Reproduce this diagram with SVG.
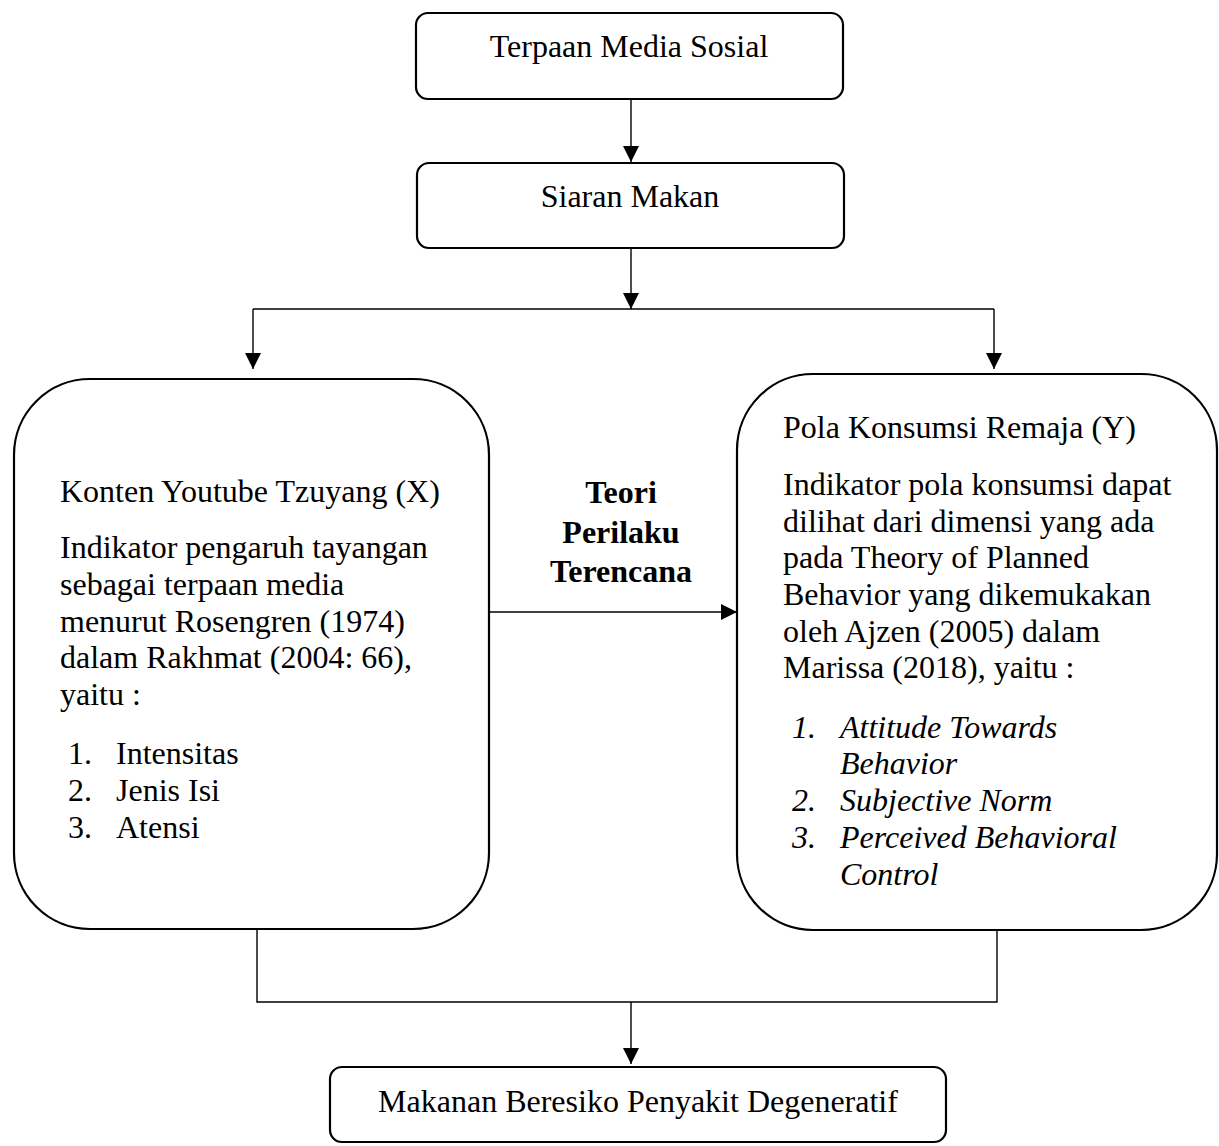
<svg xmlns="http://www.w3.org/2000/svg" width="1219" height="1146" viewBox="0 0 1219 1146">
<style>
.box{fill:#fff;stroke:#000;stroke-width:2.2}
.con{fill:none;stroke:#000;stroke-width:1.4}
text{font-family:"Liberation Serif","Times New Roman",serif;font-size:32px;fill:#000}
.c{text-anchor:middle}
.b{font-weight:bold}
.i{font-style:italic}
</style>
<defs>
<marker id="arr" markerUnits="userSpaceOnUse" markerWidth="16" markerHeight="16" refX="16" refY="8" orient="auto">
<path d="M0,0 L16,8 L0,16 z" fill="#000"/>
</marker>
</defs>
<rect width="1219" height="1146" fill="#fff"/>
<g id="connectors">
<path class="con" d="M631,99 V162" marker-end="url(#arr)"/>
<path class="con" d="M631,248 V309" marker-end="url(#arr)"/>
<path class="con" d="M253,309 H994"/>
<path class="con" d="M253,309 V369" marker-end="url(#arr)"/>
<path class="con" d="M994,309 V369" marker-end="url(#arr)"/>
<path class="con" d="M489,612 H737" marker-end="url(#arr)"/>
<path class="con" d="M257,929 V1002 H997 V930"/>
<path class="con" d="M631,1002 V1064" marker-end="url(#arr)"/>
</g>
<g id="label-teori">
<text class="c b" x="621" y="503">Teori</text>
<text class="c b" x="621" y="543">Perilaku</text>
<text class="c b" x="621" y="582">Terencana</text>
</g>
<g id="node-terpaan">
<rect class="box" x="416" y="13" width="427" height="86" rx="12"/>
<text class="c" x="629" y="57">Terpaan Media Sosial</text>
</g>
<g id="node-siaran">
<rect class="box" x="417" y="163" width="427" height="85" rx="12"/>
<text class="c" x="630" y="207">Siaran Makan</text>
</g>
<g id="node-konten">
<rect class="box" x="14" y="379" width="475" height="550" rx="76"/>
<text x="60" y="502">Konten Youtube Tzuyang (X)</text>
<text x="60" y="558">Indikator pengaruh tayangan</text>
<text x="60" y="595">sebagai terpaan media</text>
<text x="60" y="632">menurut Rosengren (1974)</text>
<text x="60" y="668">dalam Rakhmat (2004: 66),</text>
<text x="60" y="705">yaitu :</text>
<text x="68" y="764">1.</text><text x="116" y="764">Intensitas</text>
<text x="68" y="801">2.</text><text x="116" y="801">Jenis Isi</text>
<text x="68" y="838">3.</text><text x="116" y="838">Atensi</text>
</g>
<g id="node-pola">
<rect class="box" x="737" y="374" width="480" height="556" rx="76"/>
<text x="783" y="438">Pola Konsumsi Remaja (Y)</text>
<text x="783" y="495">Indikator pola konsumsi dapat</text>
<text x="783" y="532">dilihat dari dimensi yang ada</text>
<text x="783" y="568">pada Theory of Planned</text>
<text x="783" y="605">Behavior yang dikemukakan</text>
<text x="783" y="642">oleh Ajzen (2005) dalam</text>
<text x="783" y="678">Marissa (2018), yaitu :</text>
<text class="i" x="792" y="738">1.</text><text class="i" x="840" y="738">Attitude Towards</text>
<text class="i" x="840" y="774">Behavior</text>
<text class="i" x="792" y="811">2.</text><text class="i" x="840" y="811">Subjective Norm</text>
<text class="i" x="792" y="848">3.</text><text class="i" x="840" y="848">Perceived Behavioral</text>
<text class="i" x="840" y="885">Control</text>
</g>
<g id="node-makanan">
<rect class="box" x="330" y="1067" width="616" height="75" rx="12"/>
<text class="c" x="638" y="1112">Makanan Beresiko Penyakit Degeneratif</text>
</g>
</svg>
